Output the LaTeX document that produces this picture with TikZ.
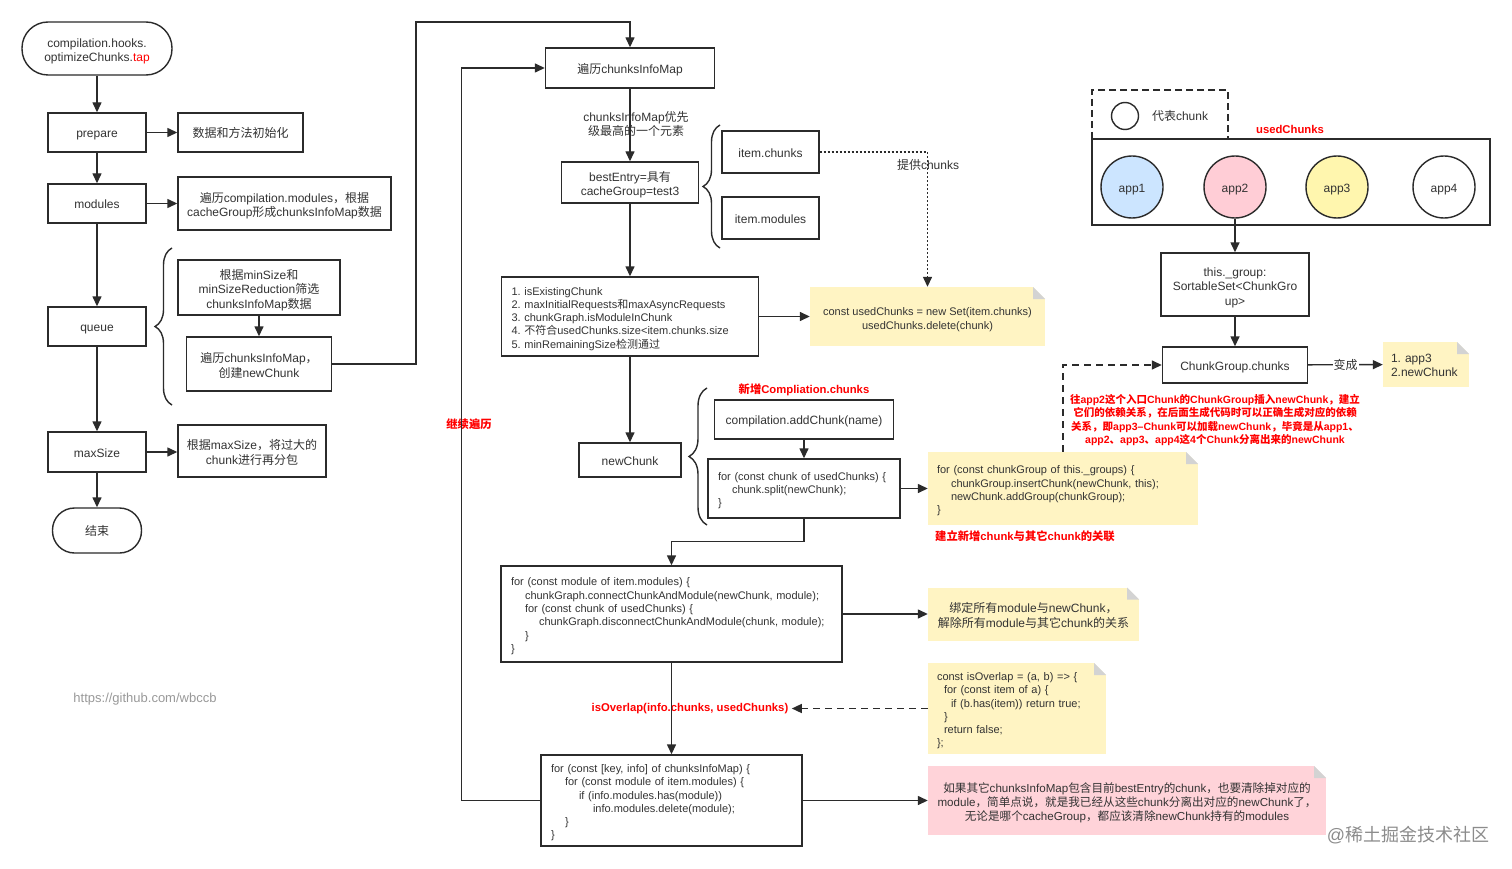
\documentclass[tikz,border=0pt]{standalone}
\usepackage{fontspec}
\setmainfont{Liberation Sans}
\newfontfamily\cjkfont{Noto Sans CJK SC}
\usetikzlibrary{arrows.meta,decorations.pathreplacing}
\frenchspacing

% Chinese characters switch to the CJK family by themselves
\XeTeXinterchartokenstate=1
\newXeTeXintercharclass\cjkcls
\newcommand\cjkrange[2]{\count255=#1\relax
  \loop\XeTeXcharclass\count255=\cjkcls
  \ifnum\count255<#2\relax \advance\count255 by 1 \repeat}
\cjkrange{"3000}{"303F}
\cjkrange{"4E00}{"9FFF}
\cjkrange{"FF00}{"FFEF}
\newcommand\latinfont{\rmfamily}
\XeTeXinterchartoks 0 \cjkcls = {\cjkfont}
\XeTeXinterchartoks 1 \cjkcls = {\cjkfont}
\XeTeXinterchartoks 2 \cjkcls = {\cjkfont}
\XeTeXinterchartoks 3 \cjkcls = {\cjkfont}
\XeTeXinterchartoks 4095 \cjkcls = {\cjkfont}
\XeTeXinterchartoks \cjkcls 0 = {\latinfont}
\XeTeXinterchartoks \cjkcls 4095 = {\latinfont}

\newcommand\txtm{\fontsize{12}{14.5}\selectfont}
\newcommand\txts{\fontsize{11}{13.3}\selectfont}
\newcommand\txtr{\fontsize{10.5}{13.3}\selectfont}
\newcommand\txtb{\fontsize{11.3}{13.6}\selectfont}
\newcommand\topstrut{\rule{0pt}{12.8pt}}
\newcommand\botstrut{\rule[-2.5pt]{0pt}{2.5pt}}
\newcommand\fl{\rule{0pt}{14.5pt}}

\definecolor{noteyel}{HTML}{FFF4C3}
\definecolor{notepink}{HTML}{FFD3D9}
\definecolor{foldgray}{HTML}{D3D3D3}
\definecolor{appblue}{HTML}{CCE5FF}
\definecolor{apppink}{HTML}{FFCDD6}
\definecolor{appyel}{HTML}{FFF6AE}
\definecolor{linec}{HTML}{2B2B2B}
\definecolor{txtc}{HTML}{333333}
\definecolor{redtxt}{HTML}{FF0000}

\tikzset{
  struts/.style={execute at begin node=\topstrut, execute at end node=\botstrut},
  box/.style={struts, draw=linec, line width=1.4pt, text=txtc, font=\txtm, align=center, inner sep=2pt},
  term/.style={box, rounded corners=#1},
  codebox/.style={struts, draw=linec, line width=1.4pt, text=txtc, font=\txts, align=left, inner xsep=10pt},
  note/.style={struts, fill=#1, text=txtc, font=\txtm, align=center, inner sep=2pt,
    path picture={
      \fill[white] (path picture bounding box.north east) -- ++(-12pt,0pt) -- ++(12pt,-12pt) -- cycle;
      \fill[foldgray] (path picture bounding box.north east) ++(-12pt,0pt) -- ++(12pt,-12pt) -- ++(-12pt,0pt) -- cycle;}},
  arr/.style={draw=linec, line width=1.4pt, -{Triangle[length=10pt,width=9pt]}},
  lbl/.style={text=txtc, font=\txtm, align=center},
  redlbl/.style={text=redtxt, font=\txtb\bfseries, align=center},
  brc/.style={draw=linec, line width=1.4pt, decorate, decoration={brace, amplitude=#1}},
  chunk/.style={struts, circle, draw=linec, line width=1.4pt, fill=#1, minimum size=62pt, inner sep=0pt, font=\txtm, text=txtc},
}

\begin{document}
\begin{tikzpicture}[x=1pt, y=-1pt]
    \path[use as bounding box, fill=white] (0,0) rectangle (1512,869);

    \node[term=26pt, minimum width=150pt, minimum height=53pt] (start) at (97,48.5) {\fl compilation.hooks.\\optimizeChunks.\textcolor{redtxt}{tap}};
    \node[box, minimum width=98pt, minimum height=39pt] (prep) at (97,132.5) {prepare};
    \node[box, minimum width=125pt, minimum height=39pt] (prepinfo) at (240.5,132.5) {数据和方法初始化};
    \node[box, minimum width=98pt, minimum height=39pt] (mods) at (97,203.5) {modules};
    \node[box, minimum width=213pt, minimum height=53pt] (modsinfo) at (284.5,203.5) {\fl 遍历compilation.modules，根据\\cacheGroup形成chunksInfoMap数据};
    \node[box, minimum width=98pt, minimum height=39pt] (queue) at (97,326.5) {queue};
    \node[box, minimum width=162pt, minimum height=55pt] (filter) at (259,287.5) {\fl 根据minSize和\\minSizeReduction筛选\\chunksInfoMap数据};
    \node[box, minimum width=145pt, minimum height=54pt] (walk) at (259,364) {\fl 遍历chunksInfoMap，\\创建newChunk};
    \node[box, minimum width=98pt, minimum height=40pt] (maxs) at (97,452) {maxSize};
    \node[box, minimum width=148pt, minimum height=52pt] (maxsinfo) at (252,451) {\fl 根据maxSize，将过大的\\chunk进行再分包};
    \node[term=22pt, minimum width=89pt, minimum height=45pt] (stop) at (97,530.5) {结束};
    \node[text=black!40, font=\fontsize{13}{15}\selectfont] (url) at (145,699) {https://github.com/wbccb};

    \draw[arr] (start) -- (prep);
    \draw[arr] (prep) -- (mods);
    \draw[arr] (mods) -- (queue);
    \draw[arr] (queue) -- (maxs);
    \draw[arr] (maxs) -- (stop);
    \draw[arr] (prep) -- (prepinfo);
    \draw[arr] (mods) -- (modsinfo);
    \draw[arr] (maxs) -- (maxs -| maxsinfo.west);
    \draw[arr] (filter) -- (walk);
    \draw[brc=17pt] (172,405) -- (172,248);

    \node[box, minimum width=169pt, minimum height=40pt] (map) at (630,68) {遍历chunksInfoMap};
    \node[box, minimum width=137pt, minimum height=41pt] (best) at (630,182.5) {\fl bestEntry=具有\\cacheGroup=test3};
    \node[box, minimum width=97pt, minimum height=42pt] (ichunks) at (770.5,152) {item.chunks};
    \node[box, minimum width=97pt, minimum height=42pt] (imods) at (770.5,218) {item.modules};
    \node[codebox, text width=237pt, minimum height=79pt] (cond) at (630,316.5) {1. isExistingChunk\\2. maxInitialRequests和maxAsyncRequests\\3. chunkGraph.isModuleInChunk\\4. 不符合usedChunks.size<item.chunks.size\\5. minRemainingSize检测通过};
    \node[note=noteyel, font=\txts, minimum width=235pt, minimum height=59pt] (usednote) at (927.5,316.5) {\fl const usedChunks = new Set(item.chunks)\\usedChunks.delete(chunk)};
    \node[lbl] (givelbl) at (928,165) {提供chunks};
    \node[box, minimum width=102pt, minimum height=34pt] (newc) at (630,460) {newChunk};
    \node[redlbl] (addlbl) at (804,390) {新增Compliation.chunks};
    \node[box, minimum width=179pt, minimum height=39pt] (addc) at (804,419.5) {compilation.addChunk(name)};
    \node[codebox, text width=172pt, minimum height=59pt] (split) at (804,488.5) {for (const chunk of usedChunks) \{\\\hspace*{14pt}chunk.split(newChunk);\\\}};
    \node[note=noteyel, font=\txts, align=left, text width=252pt, inner xsep=9pt, minimum height=73pt] (groupnote) at (1063,488.5) {for (const chunkGroup of this.\_groups) \{\\\hspace*{14pt}chunkGroup.insertChunk(newChunk, this);\\\hspace*{14pt}newChunk.addGroup(chunkGroup);\\\}};
    \node[redlbl] (linklbl) at (1025,536) {建立新增chunk与其它chunk的关联};
    \node[codebox, text width=321pt, minimum height=96pt] (fmod) at (671.5,614) {for (const module of item.modules) \{\\\hspace*{14pt}chunkGraph.connectChunkAndModule(newChunk, module);\\\hspace*{14pt}for (const chunk of usedChunks) \{\\\hspace*{28pt}chunkGraph.disconnectChunkAndModule(chunk, module);\\\hspace*{14pt}\}\\\}};
    \node[note=noteyel, minimum width=211pt, minimum height=53pt] (bindnote) at (1033.5,614) {\fl 绑定所有module与newChunk，\\解除所有module与其它chunk的关系};
    \node[note=noteyel, font=\txts, align=left, text width=160pt, inner xsep=9pt, minimum height=91pt] (overlapnote) at (1017,708.5) {const isOverlap = (a, b) => \{\\\hspace*{7pt}for (const item of a) \{\\\hspace*{14pt}if (b.has(item)) return true;\\\hspace*{7pt}\}\\\hspace*{7pt}return false;\\\};};
    \node[redlbl] (ovl) at (690,708.5) {isOverlap(info.chunks, usedChunks)};
    \node[codebox, text width=241pt, minimum height=91pt] (fkey) at (671.5,800.5) {for (const [key, info] of chunksInfoMap) \{\\\hspace*{14pt}for (const module of item.modules) \{\\\hspace*{28pt}if (info.modules.has(module))\\\hspace*{42pt}info.modules.delete(module);\\\hspace*{14pt}\}\\\}};
    \node[note=notepink, font=\fontsize{11.6}{14.2}\selectfont, minimum width=398pt, minimum height=69pt] (pinknote) at (1127,800.5) {\fl 如果其它chunksInfoMap包含目前bestEntry的chunk，也要清除掉对应的\\module，简单点说，就是我已经从这些chunk分离出对应的newChunk了，\\无论是哪个cacheGroup，都应该清除newChunk持有的modules};
    \node[redlbl] (againlbl) at (469,424) {继续遍历};

    \draw[arr] (walk.east) -| (416,22) -| (map.north);
    \draw[arr] (map) -- node[lbl, xshift=6pt, yshift=1pt] (toplbl) {chunksInfoMap优先\\级最高的一个元素} (best);
    \draw[arr] (best) -- (cond);
    \draw[brc=17pt] (720,248) -- (720,125);
    \draw[arr, dash pattern=on 2pt off 2pt] (ichunks.east) -| (usednote.north);
    \draw[arr] (cond) -- (usednote);
    \draw[arr] (cond) -- (newc);
    \draw[brc=18pt] (707,525) -- (707,388);
    \draw[arr] (addc) -- (split);
    \draw[arr] (split) -- (groupnote);
    \draw[arr] (split.south) -- ++(0,23) -| (fmod.north);
    \draw[arr] (fmod) -- (bindnote);
    \draw[arr] (fmod) -- (fkey);
    \draw[arr, dash pattern=on 7pt off 5pt] (overlapnote.west) -- (overlapnote.west -| ovl.east);
    \draw[arr] (fkey) -- (fkey -| pinknote.west);
    \draw[arr] (fkey.west) -- ++(-79,0) |- (map.west);

    \node[draw=linec, line width=1.4pt, dash pattern=on 7pt off 4pt, minimum width=136pt, minimum height=49pt] (legend) at (1160,114.5) {};
    \node[circle, draw=linec, line width=1.4pt, minimum size=27pt, inner sep=0pt] (legc) at (1125,116) {};
    \node[lbl] (legtxt) at (1180,116) {代表chunk};
    \node[redlbl] (usedlbl) at (1290,129) {usedChunks};
    \node[draw=linec, line width=1.4pt, minimum width=398pt, minimum height=86pt] (used) at (1291,182) {};
    \node[chunk=appblue] (app1) at (1132,187) {app1};
    \node[chunk=apppink] (app2) at (1235,187) {app2};
    \node[chunk=appyel] (app3) at (1337,187) {app3};
    \node[chunk=white] (app4) at (1444,187) {app4};
    \node[box, minimum width=148pt, minimum height=63pt] (grp) at (1235,284.5) {\fl this.\_group:\\SortableSet<ChunkGro\\up>};
    \node[box, minimum width=145pt, minimum height=36pt] (cgc) at (1235,365) {ChunkGroup.chunks};
    \node[note=noteyel, align=left, text width=70pt, inner xsep=8pt, minimum height=45pt] (resnote) at (1426,364.5) {1. app3\\2.newChunk};
    \node[text=redtxt, font=\txtr\bfseries, align=center] (deptxt) at (1215,420) {往app2这个入口Chunk的ChunkGroup插入newChunk，建立\\它们的依赖关系，在后面生成代码时可以正确生成对应的依赖\\关系，即app3–Chunk可以加载newChunk，毕竟是从app1、\\app2、app3、app4这4个Chunk分离出来的newChunk};

    \draw[arr] (app2) -- (grp);
    \draw[arr] (grp) -- (cgc);
    \draw[arr] (cgc) -- node[fill=white, inner sep=1pt, lbl] (becomes) {变成} (resnote);
    \draw[arr, dash pattern=on 7pt off 5pt] (groupnote.north) |- (cgc.west);

    \node[text=black!45, font=\fontsize{18}{20}\selectfont] (mark) at (1408,835) {@稀土掘金技术社区};
  \end{tikzpicture}
\end{document}
